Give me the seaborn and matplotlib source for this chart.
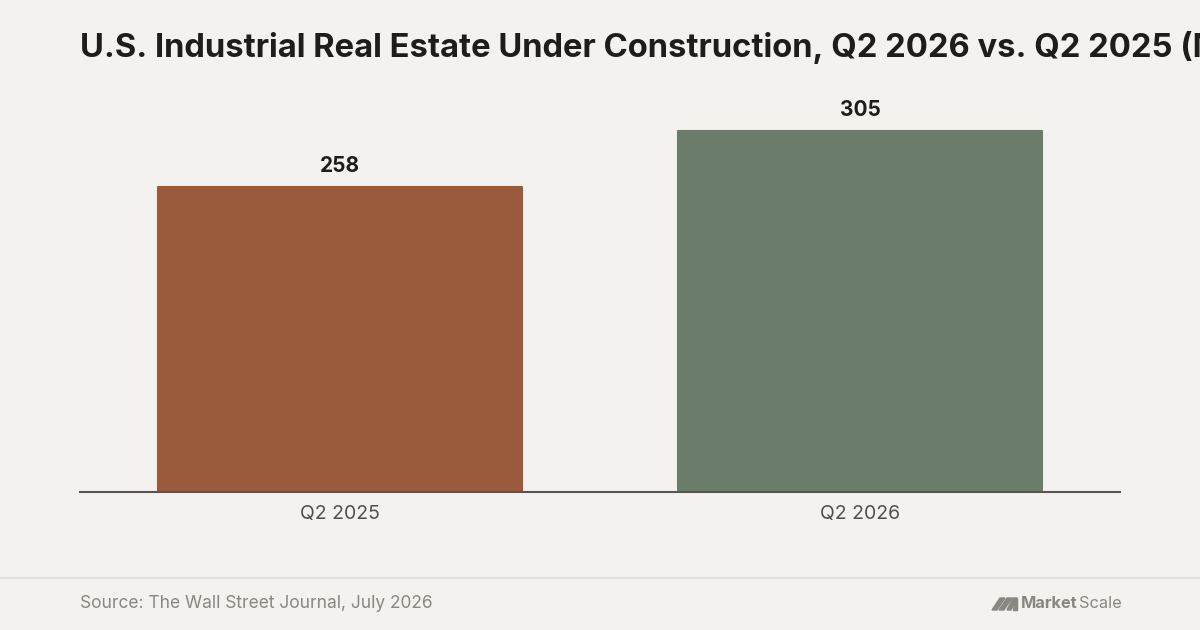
import matplotlib
matplotlib.use("Agg")
import matplotlib.pyplot as plt
import seaborn as sns
import pandas as pd
from matplotlib.patches import Polygon

# data
quarters = ["Q2 2025", "Q2 2026"]
sq_ft_million = [258, 305]
bar_colors = ["#9a5a3c", "#6b7c6a"]

title = "U.S. Industrial Real Estate Under Construction, Q2 2026 vs. Q2 2025 (Million Sq. Ft.)"
source = "Source: The Wall Street Journal, July 2026"

bg = "#f4f2ee"
logo_grey = "#8a8680"
sns.set_theme(style="white")
plt.rcParams["font.family"] = ["Inter", "DejaVu Sans"]

df = pd.DataFrame({"quarter": quarters, "value": sq_ft_million})

fig = plt.figure(figsize=(12, 6.3), dpi=100, facecolor=bg)
W, H = 1200, 630
ax = fig.add_axes([80 / W, 1 - 492 / H, 1040 / W, (492 - 90) / H])
ax.set_facecolor(bg)

sns.barplot(data=df, x="quarter", y="value", hue="quarter", palette=bar_colors,
            width=0.7, legend=False, ax=ax, saturation=1)
for patch, c in zip(ax.patches, bar_colors):
    patch.set_edgecolor(c)
    patch.set_linewidth(1.5)
    patch.set_joinstyle("round")

for i, v in enumerate(sq_ft_million):
    ax.annotate(f"{v}", (i, v), xytext=(0, 8), textcoords="offset points",
                ha="center", va="bottom", fontsize=15, fontweight="bold", color="#1f1d1a")

ax.set_xlim(-0.5, 1.5)
ax.set_ylim(0, 340)
ax.set_xlabel("")
ax.set_ylabel("")
ax.set_yticks([])
for s in ["top", "right", "left"]:
    ax.spines[s].set_visible(False)
ax.spines["bottom"].set_color("#5a5550")
ax.spines["bottom"].set_linewidth(1.5)
ax.spines["bottom"].set_zorder(5)
ax.tick_params(axis="x", length=0, pad=9, labelsize=14, labelcolor="#555049")

# title runs off the right edge, as in the original graphic
fig.text(80 / W, 1 - 47 / H, title, fontsize=23.6, fontweight="bold", color="#1f1d1a",
         ha="left", va="center")

# footer
fig.add_artist(plt.Line2D([0, 1], [1 - 578 / H] * 2, color="#e4e1dc", lw=1.5))
fig.text(80 / W, 1 - 603 / H, source, fontsize=12.5, color=logo_grey, ha="left", va="center")

# logo mark
strokes = [
    [(992, 610), (997, 610), (1005, 598), (1000, 598)],
    [(999, 610), (1004, 610), (1012, 598), (1007, 598)],
    [(1007, 610), (1011, 610), (1017, 598), (1013, 598)],
    [(1013, 610), (1017, 610), (1017, 598), (1015, 598)],
]
for pts in strokes:
    fig.add_artist(Polygon([(x / W, 1 - y / H) for x, y in pts], closed=True,
                           color=logo_grey, transform=fig.transFigure))
logo_y = 1 - 604 / H
t1 = fig.text(1021 / W, logo_y, "Market", fontsize=11.8, fontweight="bold", color=logo_grey,
              ha="left", va="center")
fig.canvas.draw()
bb = t1.get_window_extent()
fig.text(bb.x1 / W + 1 / W, logo_y, "Scale", fontsize=11.8, color=logo_grey,
         ha="left", va="center")

fig.savefig("out.png", dpi=100, facecolor=bg)
